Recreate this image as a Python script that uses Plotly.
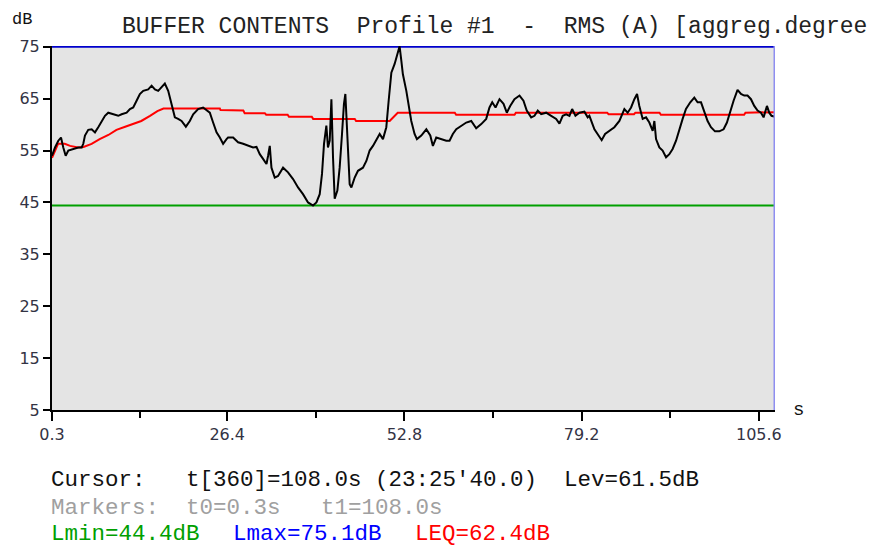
import plotly.graph_objects as go

# ---------------- data ----------------
time_s = [0.3, 0.75, 1.24, 1.64, 1.98, 2.34, 2.73, 3.47, 4.21, 4.72, 4.96, 5.21, 5.70, 6.21, 6.70,
          7.19, 7.70, 8.19, 8.68, 9.42, 10.17, 10.67, 11.42, 11.91, 12.40, 12.90, 13.39, 13.89,
          14.63, 15.14, 15.63, 16.12, 16.62, 17.11, 17.61, 18.11, 18.60, 19.09, 19.60, 20.24,
          20.83, 21.33, 22.07, 22.81, 23.32, 23.81, 24.30, 24.81, 25.30, 25.79, 26.30, 26.53,
          27.28, 28.02, 28.77, 29.51, 30.25, 30.76, 31.25, 31.74, 32.25, 32.49, 32.74, 32.99,
          33.48, 33.97, 34.72, 35.46, 36.21, 36.95, 37.69, 38.44, 39.18, 39.69, 40.18, 40.52,
          40.82, 41.17, 41.41, 41.67, 41.92, 42.16, 42.41, 42.81, 43.15, 43.50, 43.79, 44.00,
          44.30, 44.64, 44.90, 45.39, 45.88, 46.62, 47.13, 47.62, 48.11, 48.62, 49.11, 49.60,
          50.10, 50.45, 50.85, 51.34, 51.83, 52.08, 52.34, 52.57, 53.08, 53.47, 53.82, 54.31,
          54.66, 55.31, 56.06, 56.65, 57.04, 57.54, 58.29, 59.03, 59.52, 60.01, 60.52, 61.26,
          62.01, 62.75, 63.49, 64.24, 64.98, 65.47, 65.88, 66.37, 66.96, 67.56, 68.05, 68.55,
          69.19, 69.94, 70.53, 71.02, 71.68, 72.17, 72.66, 73.17, 73.91, 74.66, 75.40, 75.89,
          76.38, 76.89, 77.38, 77.78, 78.27, 78.87, 79.61, 80.10, 80.35, 81.10, 81.84, 82.18,
          82.69, 83.33, 84.07, 84.82, 85.56, 86.05, 86.56, 87.05, 87.45, 87.79, 88.29, 88.79,
          89.28, 89.78, 90.03, 90.28, 90.77, 91.26, 91.77, 92.26, 92.75, 93.26, 93.75, 94.24,
          94.74, 95.38, 95.98, 96.47, 96.98, 97.47, 97.96, 98.46, 99.06, 99.70, 100.34, 100.84,
          101.34, 101.83, 102.42, 102.93, 103.42, 103.91, 104.42, 104.91, 105.40, 105.91,
          106.30, 106.80, 107.14, 107.48, 108.0]
level_db = [54.0, 55.6, 56.9, 57.5, 55.6, 54.0, 55.0, 55.3, 55.6, 55.6, 56.3, 57.9, 59.0, 59.1, 58.5,
            59.5, 60.7, 61.7, 62.3, 62.0, 61.7, 62.0, 62.3, 63.0, 63.3, 64.6, 65.9, 66.5,
            66.8, 67.5, 66.8, 66.5, 67.2, 67.9, 66.5, 64.0, 61.4, 61.1, 60.7, 59.6,
            60.7, 62.0, 63.0, 63.3, 62.7, 62.3, 60.4, 58.5, 57.5, 56.3, 57.2, 57.5,
            57.5, 56.6, 56.3, 55.9, 55.6, 55.7, 54.3, 53.4, 52.4, 54.0, 55.9, 51.7,
            49.8, 50.1, 51.7, 50.8, 49.5, 47.9, 46.6, 45.0, 44.4, 45.0, 46.6, 50.5,
            56.3, 59.8, 55.6, 56.9, 64.9, 53.7, 45.7, 47.3, 51.7, 58.2, 64.0, 65.9,
            56.9, 48.5, 47.9, 49.8, 51.1, 51.7, 53.0, 55.0, 55.9, 57.2, 58.2, 57.2,
            59.5, 64.6, 70.0, 71.7, 73.9, 75.1, 72.3, 69.7, 66.5, 63.3, 60.7, 58.2,
            57.2, 57.9, 59.1, 57.9, 55.9, 57.5, 57.2, 56.9, 56.9, 58.2, 59.1, 59.8,
            60.4, 60.7, 59.3, 60.1, 61.1, 63.3, 64.3, 63.3, 64.9, 64.0, 62.3, 63.6,
            64.9, 65.6, 64.6, 62.7, 61.4, 61.7, 62.7, 62.0, 62.3, 61.7, 61.1, 60.2,
            61.7, 62.0, 61.7, 63.0, 61.7, 62.3, 62.5, 61.4, 61.7, 59.1, 57.5, 57.0,
            58.2, 58.8, 59.5, 60.7, 63.0, 62.3, 63.3, 64.9, 65.9, 63.6, 61.1, 61.4,
            60.4, 58.8, 60.7, 57.2, 55.6, 55.0, 53.7, 54.3, 55.3, 56.9, 59.1, 61.1,
            63.0, 64.3, 65.2, 64.3, 64.3, 62.3, 60.7, 59.5, 58.7, 58.7, 59.1, 60.4,
            62.7, 64.6, 66.7, 65.9, 65.6, 65.6, 64.9, 63.6, 62.7, 62.3,
            61.4, 63.6, 62.3, 61.7, 61.5]

leq_time_s = [0.3, 1.2, 2.2, 3.0, 4.2, 5.0, 6.2, 7.4, 8.7, 9.9, 11.2, 12.4, 13.6, 14.9, 16.0, 16.9,
              25.3, 25.4, 28.8, 29.0, 32.0, 32.2, 35.4, 35.6, 39.0, 39.2, 45.4, 45.6, 50.6,
              51.8, 60.3, 60.5, 69.2, 69.4, 83.0, 83.2, 87.0, 87.2, 90.8, 91.0, 103.4, 103.6, 108.0]
leq_db = [53.6, 56.3, 56.3, 55.9, 55.6, 55.7, 56.3, 57.2, 58.0, 59.0, 59.6, 60.1, 60.7, 61.7, 62.6, 63.1,
          63.1, 62.8, 62.7, 62.2, 62.2, 61.9, 61.9, 61.5, 61.5, 61.1, 61.1, 60.7, 60.7,
          62.3, 62.3, 61.9, 61.9, 62.3, 62.3, 62.0, 62.0, 62.3, 62.3, 61.9, 61.9, 62.3, 62.4]

lmin_db = 44.4
lmax_db = 75.1
t_start, t_end = 0.3, 108.0
y_ticks = [5, 15, 25, 35, 45, 55, 65, 75]
x_ticks = [0.3, 26.4, 52.8, 79.2, 105.6]
x_minor = [13.35, 39.6, 66.0, 92.4]

title_text = "BUFFER CONTENTS  Profile #1  -  RMS (A) [aggreg.degree"
cursor_text = "Cursor:   t[360]=108.0s (23:25'40.0)  Lev=61.5dB"
markers_text = "Markers:  t0=0.3s   t1=108.0s"
stats = [("Lmin=44.4dB", "#00a000", 0), ("Lmax=75.1dB", "#0000ff", 13), ("LEQ=62.4dB", "#ff0000", 26)]

# ---------------- figure ----------------
OFF = 8  # page body margin
W, H = 877 - OFF, 547 - OFF
L, R, T, B = 52 - OFF, 102, 46 - OFF, 137
pw, ph = W - L - R, H - T - B

def px(x):
    # x in page pixels -> paper coords
    return (x - OFF - L) / pw

def py(y):
    return (H - B - (y - OFF)) / ph

fig = go.Figure()
fig.add_trace(go.Scatter(x=[t_start, t_end], y=[lmin_db, lmin_db], mode="lines",
                         line=dict(color="#00a000", width=2), hoverinfo="skip"))
fig.add_trace(go.Scatter(x=[t_start, t_end], y=[lmax_db, lmax_db], mode="lines",
                         line=dict(color="#0000cc", width=3), hoverinfo="skip", cliponaxis=False))
fig.add_trace(go.Scatter(x=leq_time_s, y=leq_db, mode="lines",
                         line=dict(color="#ff0000", width=2)))
fig.add_trace(go.Scatter(x=time_s, y=level_db, mode="lines",
                         line=dict(color="#000000", width=2), cliponaxis=False))

# cursor line at right edge
fig.add_shape(type="line", xref="x", yref="paper", x0=t_end, x1=t_end, y0=0, y1=1,
              line=dict(color="#8e8ef0", width=3), layer="above")

mono = "Liberation Mono"
tickfam = "DejaVu Sans"

def txt(s, x, y, color="#111111", size=22.5, family=mono, xanchor="left"):
    fig.add_annotation(text=s, x=px(x), y=py(y), xref="paper", yref="paper",
                       xanchor=xanchor, yanchor="middle", showarrow=False, borderpad=0,
                       font=dict(family=family, size=size, color=color))

txt("dB", 11, 19, size=17)
txt(title_text, 121, 27, color="#222222", size=23)
txt("s", 792, 410, size=19)
txt(cursor_text, 50, 480)
txt(markers_text, 50, 508, color="#a0a0a0")
for s, c, off in stats:
    txt(s, 50 + off * 14, 534, color=c)

fig.update_layout(
    width=W, height=H,
    margin=dict(l=L, r=R, t=T, b=B),
    paper_bgcolor="white", plot_bgcolor="#e4e4e4",
    showlegend=False,
    xaxis=dict(range=[t_start, t_end], tickvals=x_ticks, ticktext=[str(v) for v in x_ticks],
               ticks="outside", ticklen=9, tickwidth=2, tickcolor="black",
               showline=True, linecolor="black", linewidth=2, showgrid=False, zeroline=False,
               minor=dict(tickvals=x_minor, ticks="outside", ticklen=6, tickwidth=2, tickcolor="black", showgrid=False),
               tickfont=dict(family=tickfam, size=16, color="#333344")),
    yaxis=dict(range=[5, 75.15], tickvals=y_ticks, ticks="outside", ticklen=7, tickwidth=2,
               tickcolor="black", showline=True, linecolor="black", linewidth=2,
               showgrid=False, zeroline=False,
               tickfont=dict(family=tickfam, size=16, color="#333344")),
)

fig.write_html("out.html")
